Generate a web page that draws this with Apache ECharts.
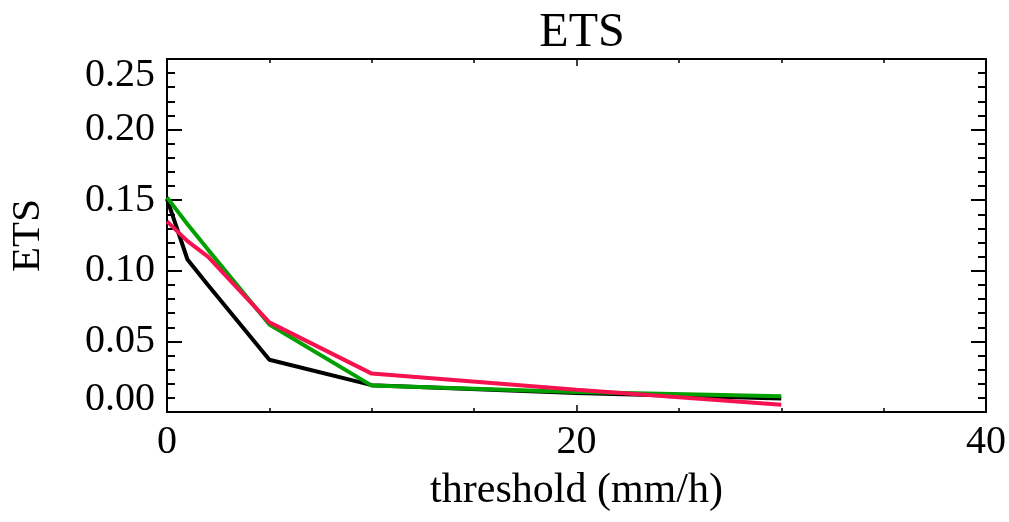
<!DOCTYPE html>
<html>
<head>
<meta charset="utf-8">
<script src="https://cdn.jsdelivr.net/npm/echarts@6/dist/echarts.min.js"></script>
<style>html,body{margin:0;padding:0;background:#fff}#c{width:1009px;height:522px}</style>
</head>
<body>
<div id="c"></div>
<script>
var thresholds = [0, 1, 2, 5, 10, 20, 30];
var blackValues = [0.151, 0.108, 0.090, 0.037, 0.019, 0.0135, 0.0095];
var greenValues = [0.152, 0.133, 0.115, 0.062, 0.0187, 0.0142, 0.0111];
var redValues = [0.135, 0.121, 0.110, 0.0635, 0.0272, 0.0158, 0.0052];
var xTicks = [0, 20, 40];
var yTicks = [0, 0.05, 0.10, 0.15, 0.20, 0.25];

function pairs(v){ return thresholds.map(function(x,i){ return [x, v[i]]; }); }
var FONT = '"Liberation Serif", "DejaVu Serif", serif';
var chart = echarts.init(document.getElementById('c'), null, {renderer:'canvas'});

function xAx(pos, showLabel){
  return {
    type:'value', position:pos, min:xTicks[0], max:xTicks[xTicks.length-1], interval:20,
    name: showLabel ? 'threshold (mm/h)' : '', nameLocation:'middle', nameGap:58,
    nameTextStyle:{fontFamily:FONT, fontSize:42, color:'#000'},
    axisLine:{show:true, onZero:false, lineStyle:{color:'#000', width:2}},
    axisTick:{show:true, inside:true, length:7, lineStyle:{color:'#000', width:1.5}},
    minorTick:{show:true, splitNumber:4, length:4, lineStyle:{color:'#000', width:1.5}},
    axisLabel:{show:showLabel, fontFamily:FONT, fontSize:40, color:'#000', margin:10},
    splitLine:{show:false}, minorSplitLine:{show:false}
  };
}
function yAx(pos, showLabel){
  return {
    type:'value', position:pos, min:yTicks[0], max:yTicks[yTicks.length-1], interval:0.05,
    name: showLabel ? 'ETS' : '', nameLocation:'middle', nameGap:118, nameRotate:90,
    nameTextStyle:{fontFamily:FONT, fontSize:41, color:'#000'},
    axisLine:{show:true, onZero:false, lineStyle:{color:'#000', width:2}},
    axisTick:{show:true, inside:true, length:15, lineStyle:{color:'#000', width:2}},
    minorTick:{show:true, splitNumber:5, length:8, lineStyle:{color:'#000', width:2}},
    axisLabel:{show:showLabel, fontFamily:FONT, fontSize:40, color:'#000', margin:12,
      verticalAlignMinLabel:'bottom', verticalAlignMaxLabel:'top',
      formatter:function(v){
        var s = v.toFixed(2);
        if (v === yTicks[0]) return '{mn|' + s + '}';
        if (v === yTicks[yTicks.length-1]) return '{mx|' + s + '}';
        return s;
      },
      rich:{
        mn:{fontFamily:FONT, fontSize:40, color:'#000', lineHeight:26},
        mx:{fontFamily:FONT, fontSize:40, color:'#000', lineHeight:32}
      }},
    splitLine:{show:false}, minorSplitLine:{show:false}
  };
}
function line(v, color){
  return {type:'line', data:pairs(v), xAxisIndex:0, yAxisIndex:0, showSymbol:false, symbol:'none',
    lineStyle:{color:color, width:4}, itemStyle:{color:color}};
}
chart.setOption({
  animation:false,
  backgroundColor:'#fff',
  title:{text:'ETS', left:577, top:4, textAlign:'center',
    textStyle:{fontFamily:FONT, fontSize:48, fontWeight:'normal', color:'#000'}},
  grid:{left:165, right:19, top:59, bottom:110, containLabel:false},
  xAxis:[xAx('bottom', true), xAx('top', false)],
  yAxis:[yAx('left', true), yAx('right', false)],
  series:[line(blackValues,'#000000'), line(greenValues,'#00a000'), line(redValues,'#f5124f')]
});
</script>
</body>
</html>
